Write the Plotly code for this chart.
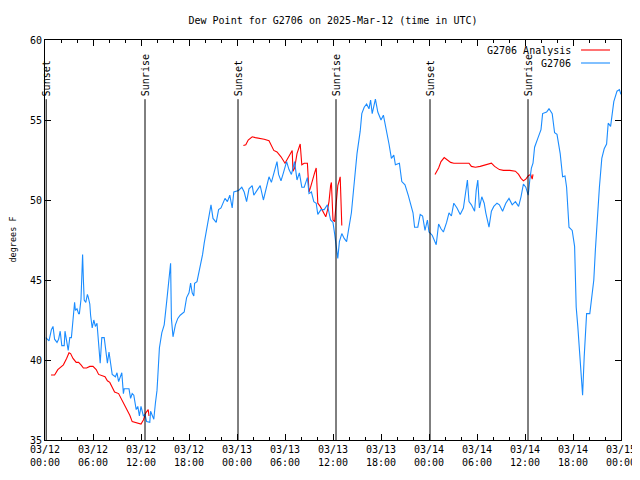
import plotly.graph_objects as go

# ---------------- data ----------------
# hours since 2025-03-12 00:00 UTC
obs_hours = [0.1, 0.5, 0.8, 1.0, 1.2, 1.5, 1.7, 1.9, 2.1, 2.4, 2.5, 2.7, 2.9, 3.1, 3.3, 3.5, 3.7, 3.8, 4.0, 4.2,
             4.3, 4.5, 4.6, 4.7, 4.8, 4.9, 5.1, 5.3, 5.4, 5.6, 5.7, 5.9, 6.1, 6.3, 6.5, 6.7, 6.9, 7.1, 7.4, 7.6,
             7.8, 8.0, 8.2, 8.4, 8.8, 9.0, 9.2, 9.4, 9.6, 9.8, 9.9, 10.5, 10.7, 10.9, 11.1, 11.4, 11.6, 11.8, 12.0, 12.3,
             12.5, 12.7, 13.1, 13.2, 13.4, 13.6, 13.8, 14.0, 14.1, 14.3, 14.6, 14.9, 15.2, 15.5, 15.6, 15.7, 15.8, 16.0, 16.3, 16.6,
             16.9, 17.4, 17.7, 18.0, 18.2, 18.4, 18.6, 18.7, 19.0, 19.4, 19.7, 19.9, 20.2, 20.5, 20.75, 21.0, 21.4, 21.7, 22.0, 22.5,
             22.8, 23.1, 23.4, 23.6, 24.2, 24.6, 24.9, 25.2, 25.5, 25.9, 26.1, 26.5, 26.9, 27.3, 27.7, 28.0, 28.3, 28.6, 29.0, 29.2,
             29.5, 29.8, 30.2, 30.5, 30.8, 31.2, 31.5, 31.8, 32.1, 32.4, 32.8, 33.0, 33.3, 33.6, 33.9, 34.1, 34.5, 34.9, 35.3, 35.7,
             36.0, 36.2, 36.4, 36.6, 36.8, 37.1, 37.4, 37.7, 38.0, 38.3, 38.6, 39.0, 39.4, 39.6, 39.9, 40.2, 40.5, 40.7, 40.9, 41.1,
             41.3, 41.6, 42.0, 42.3, 42.6, 43.0, 43.3, 43.6, 43.8, 44.3, 44.6, 45.0, 45.4, 45.8, 46.0, 46.2, 46.6, 46.9, 47.2, 47.5,
             47.8, 48.0, 48.4, 48.9, 49.2, 49.5, 49.8, 50.2, 50.5, 50.8, 51.1, 51.5, 51.9, 52.3, 52.6, 52.8, 53.0, 53.3, 53.7, 53.9,
             54.1, 54.3, 54.6, 54.9, 55.1, 55.5, 55.8, 56.1, 56.5, 56.8, 57.2, 57.6, 58.0, 58.4, 58.8, 59.2, 59.5, 59.8, 60.1, 60.4,
             60.6, 60.8, 61.0, 61.2, 61.6, 62.0, 62.2, 62.7, 63.0, 63.4, 63.7, 64.0, 64.4, 64.7, 65.0, 65.2, 65.5, 65.9, 66.2, 66.4,
             66.6, 66.8, 67.0, 67.2, 67.4, 67.5, 67.7, 68.1, 68.3, 68.6, 68.8, 69.0, 69.3, 69.6, 69.9, 70.2, 70.4, 70.7, 70.9, 71.1,
             71.5, 71.8, 72.0]
obs_dewpoint = [41.4, 41.2, 41.9, 42.1, 41.3, 41.1, 41.3, 41.8, 40.9, 40.9, 41.8, 41.2, 40.6, 41.4, 41.4, 42.5, 43.6, 43.1, 43.2, 42.9,
                42.9, 43.8, 45.6, 46.6, 45.0, 43.75, 43.6, 44.1, 43.95, 43.5, 42.8, 42.0, 42.5, 42.1, 42.3, 41.1, 39.8, 41.4, 41.4, 40.6,
                39.8, 40.5, 39.6, 39.1, 38.95, 39.2, 38.65, 38.95, 39.2, 37.9, 38.2, 38.2, 37.6, 37.9, 37.8, 36.9, 37.1, 36.5, 37.1, 36.5,
                36.6, 36.15, 36.1, 36.8, 36.5, 36.3, 37.3, 38.1, 38.95, 40.75, 41.7, 42.2, 43.6, 45.4, 45.8, 46.05, 42.6, 41.45, 42.2, 42.6,
                42.8, 43.0, 43.9, 44.2, 44.8, 44.2, 44.0, 44.8, 44.9, 45.8, 46.6, 47.3, 48.1, 49.1, 49.7, 48.85, 48.6, 49.4, 49.5, 50.1,
                49.9, 50.3, 49.5, 50.5, 50.6, 50.8, 50.5, 49.9, 50.7, 50.9, 50.3, 50.6, 50.9, 50.0, 50.9, 51.45, 51.1, 51.6, 52.4, 51.6,
                51.2, 51.7, 52.4, 51.9, 51.6, 52.4, 51.25, 51.7, 50.8, 50.8, 51.4, 50.4, 50.5, 49.9, 49.8, 49.1, 49.4, 49.4, 49.7, 48.75,
                48.6, 47.9, 47.1, 46.35, 47.4, 47.9, 47.6, 47.4, 48.3, 49.2, 50.8, 52.9, 54.3, 55.4, 55.8, 56.0, 55.7, 56.25, 55.4, 55.9,
                56.3, 55.5, 55.0, 55.3, 54.6, 53.5, 52.6, 52.8, 52.2, 52.3, 51.15, 50.95, 50.3, 49.6, 49.2, 48.3, 48.3, 49.1, 49.0, 48.1,
                48.75, 48.0, 47.8, 47.2, 48.5, 48.2, 48.0, 48.6, 49.2, 49.0, 49.8, 49.5, 49.1, 49.5, 50.6, 51.25, 49.9, 49.7, 49.3, 50.6,
                51.25, 49.5, 50.2, 49.8, 49.2, 48.3, 49.3, 49.6, 49.8, 49.7, 49.3, 49.8, 50.1, 49.7, 49.9, 49.6, 50.2, 51.0, 50.8, 50.3,
                51.25, 52.0, 52.3, 53.3, 53.85, 54.4, 55.4, 55.5, 55.7, 55.4, 54.2, 54.1, 52.9, 51.45, 51.5, 50.8, 48.3, 48.1, 47.1, 43.3,
                42.1, 40.8, 39.2, 37.8, 40.2, 41.0, 42.9, 42.9, 43.75, 45.0, 46.9, 48.75, 50.8, 52.6, 53.2, 53.5, 54.8, 54.6, 55.4, 56.15,
                56.8, 56.9, 56.6]

ana_hours = [0.75, 1.2, 1.6, 2.0, 2.3, 2.7, 3.0, 3.2, 3.5, 3.9, 4.2, 4.5, 4.8, 5.2, 5.6, 6.0, 6.4, 6.7, 7.1, 7.5,
             7.8, 8.1, 8.4, 8.7, 9.2, 9.5, 9.8, 10.0, 10.3, 10.6, 10.9, 11.2, 11.5, 12.0, 12.3, 12.6, 12.9, 13.0,
             18.0,
             24.8, 25.1, 25.4, 25.9, 26.3, 26.9, 27.4, 28.0, 28.3, 28.6, 29.0, 29.5, 30.0, 30.3, 30.7, 30.9, 31.0, 31.2, 31.5, 31.8,
             31.9, 32.1, 32.4, 32.8, 33.0, 33.2, 33.5, 33.7, 33.9, 34.1, 34.4, 34.7, 35.1, 35.3, 35.5, 35.7, 35.8, 36.0, 36.2, 36.4,
             36.6, 36.8, 36.9, 37.1,
             42.0,
             48.75, 49.2, 49.5, 49.9, 50.3, 50.7, 51.1, 51.9, 53.0, 53.3, 53.8, 54.4, 55.0, 55.8, 56.2, 56.8, 57.3, 58.1, 58.8, 59.2,
             59.5, 59.8, 60.1, 60.4, 60.7, 60.9, 61.0]
ana_dewpoint = [39.06, 39.06, 39.4, 39.55, 39.7, 40.1, 40.45, 40.4, 40.1, 39.85, 39.85, 39.7, 39.5, 39.5, 39.6, 39.6, 39.4, 39.1, 39.0, 38.95,
                38.7, 38.6, 38.3, 38.0, 37.9, 37.6, 37.3, 37.1, 36.9, 36.55, 36.15, 36.1, 36.05, 36.0, 36.25, 36.7, 36.9, 36.5,
                None,
                53.4, 53.45, 53.75, 53.95, 53.9, 53.85, 53.8, 53.7, 53.4, 53.1, 53.0, 52.7, 52.3, 52.6, 52.9, 53.1, 51.8, 52.0, 52.9, 53.4,
                53.5, 52.2, 52.3, 52.3, 50.5, 50.8, 51.45, 51.7, 52.0, 49.8, 49.6, 49.3, 48.95, 49.35, 49.9, 50.9, 51.1, 48.75, 48.65, 49.8,
                50.9, 51.25, 51.45, 48.4,
                None,
                51.6, 52.0, 52.4, 52.65, 52.5, 52.35, 52.3, 52.3, 52.3, 52.1, 52.05, 52.1, 52.2, 52.3, 52.1, 51.9, 51.85, 51.85, 51.8, 51.6,
                51.35, 51.2, 51.3, 51.5, 51.6, 51.3, 51.6]

event_hours = [0.15, 12.5, 24.125, 36.375, 48.125, 60.375]
event_labels = ["Sunset", "Sunrise", "Sunset", "Sunrise", "Sunset", "Sunrise"]

tick_hours = [0, 6, 12, 18, 24, 30, 36, 42, 48, 54, 60, 66, 72]
tick_labels = ["03/12<br>00:00", "03/12<br>06:00", "03/12<br>12:00", "03/12<br>18:00",
               "03/13<br>00:00", "03/13<br>06:00", "03/13<br>12:00", "03/13<br>18:00",
               "03/14<br>00:00", "03/14<br>06:00", "03/14<br>12:00", "03/14<br>18:00",
               "03/15<br>00:00"]
y_ticks = [35, 40, 45, 50, 55, 60]

series_names = ["G2706 Analysis", "G2706"]
series_colors = ["#ff0000", "#1a8cff"]

FONT = "DejaVu Sans Mono"

fig = go.Figure()
fig.add_trace(go.Scatter(x=ana_hours, y=ana_dewpoint, mode="lines", name=series_names[0],
                         line=dict(color=series_colors[0], width=1.1), connectgaps=False, showlegend=False))
fig.add_trace(go.Scatter(x=obs_hours, y=obs_dewpoint, mode="lines", name=series_names[1],
                         line=dict(color=series_colors[1], width=1.1), showlegend=False))

# sunrise / sunset markers
for h, lab in zip(event_hours, event_labels):
    fig.add_shape(type="line", xref="x", yref="y", x0=h, x1=h, y0=35, y1=56.3,
                  line=dict(color="black", width=1))
    fig.add_annotation(x=h, y=56.3, xref="x", yref="y", text=lab, textangle=-90,
                       showarrow=False, xanchor="center", yanchor="bottom", yshift=1,
                       font=dict(family=FONT, size=10, color="black"))

# custom legend (text left, line sample right)
leg_y = [0.975, 0.9425]
for name, col, yy in zip(series_names, series_colors, leg_y):
    fig.add_annotation(x=0.9167, y=yy, xref="paper", yref="paper", text=name, showarrow=False,
                       xanchor="right", yanchor="middle", font=dict(family=FONT, size=10, color="black"))
    fig.add_shape(type="line", xref="paper", yref="paper", x0=0.9306, x1=0.981, y0=yy, y1=yy,
                  line=dict(color=col, width=1.1))

# y-axis label
fig.add_annotation(x=(12.5 - 45) / 576, y=0.5, xref="paper", yref="paper", text="degrees F", textangle=-90,
                   showarrow=False, xanchor="center", yanchor="middle",
                   font=dict(family=FONT, size=8.5, color="black"))

# page body has an 8px margin, so the figure is sized/offset to land the plot at 45..621 x 40..440
fig.update_layout(
    width=632, height=472,
    margin=dict(l=37, r=19, t=32, b=40, autoexpand=False),
    paper_bgcolor="white", plot_bgcolor="white",
    font=dict(family=FONT, size=10, color="black"),
    title=dict(text="Dew Point for G2706 on 2025-Mar-12 (time in UTC)", x=0.5, xref="paper",
               y=1 - 12 / 472, yref="container", xanchor="center", yanchor="middle",
               font=dict(family=FONT, size=10, color="black")),
    showlegend=False,
)
fig.update_xaxes(range=[0, 72], tickvals=tick_hours, ticktext=tick_labels, ticks="inside", ticklen=6,
                 tickcolor="black", showline=True, linecolor="black", linewidth=1, mirror="ticks",
                 showgrid=False, zeroline=False, automargin=False,
                 minor=dict(dtick=2, ticks="inside", ticklen=3, tickcolor="black", showgrid=False),
                 tickfont=dict(family=FONT, size=10, color="black"))
fig.update_yaxes(range=[35, 60], tickvals=y_ticks, ticks="inside", ticklen=6, tickcolor="black",
                 showline=True, linecolor="black", linewidth=1, mirror="ticks", showgrid=False,
                 zeroline=False, automargin=False, tickfont=dict(family=FONT, size=10, color="black"))

fig.write_html("out.html")
